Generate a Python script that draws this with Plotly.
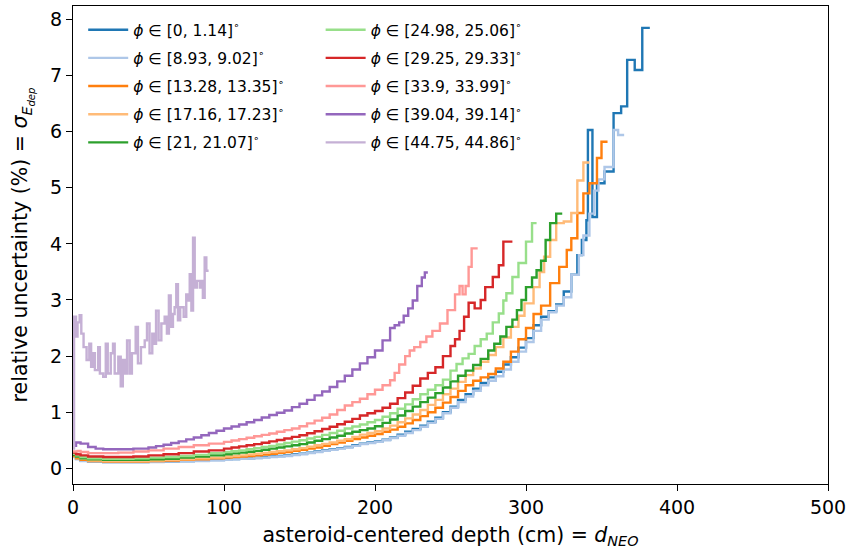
import plotly.graph_objects as go

# ---------------- data ----------------
labels = ["[0, 1.14]", "[8.93, 9.02]", "[13.28, 13.35]", "[17.16, 17.23]", "[21, 21.07]",
          "[24.98, 25.06]", "[29.25, 29.33]", "[33.9, 33.99]", "[39.04, 39.14]", "[44.75, 44.86]"]
colors = ["#1f77b4", "#aec7e8", "#ff7f0e", "#ffbb78", "#2ca02c",
          "#98df8a", "#d62728", "#ff9896", "#9467bd", "#c5b0d5"]

# shared depth grid (cm) for the smooth part of the curves
depth_low = [0, 2, 5, 10, 20, 30, 40, 50, 60, 70, 80, 90, 100, 105, 110, 115, 120, 125, 130, 135, 140,
             145, 150, 155, 160, 165, 170, 175, 180, 185, 190, 195, 200, 205, 210, 215, 220, 225, 230,
             235, 240, 245, 250]

unc_low_0 = [0.22, 0.17, 0.14, 0.12, 0.11, 0.11, 0.11, 0.12, 0.12, 0.13, 0.14, 0.15, 0.16, 0.165, 0.17,
             0.18, 0.19, 0.20, 0.21, 0.22, 0.23, 0.245, 0.26, 0.28, 0.30, 0.32, 0.34, 0.36, 0.38, 0.41,
             0.44, 0.46, 0.48, 0.51, 0.55, 0.60, 0.65, 0.70, 0.76, 0.83, 0.90, 1.00, 1.10]
depth_hi_0 = [255, 260, 265, 270, 275, 280, 285, 290, 295, 300, 305, 310, 315, 320, 325, 330, 334, 337,
              340, 341, 344, 347, 352, 358, 363, 367, 372, 377, 382]
unc_hi_0 = [1.22, 1.32, 1.42, 1.52, 1.62, 1.72, 1.85, 1.98, 2.15, 2.32, 2.55, 2.70, 2.80, 2.92, 3.15,
            3.45, 3.80, 4.07, 4.42, 6.03, 4.48, 5.08, 5.29, 6.33, 6.45, 7.28, 7.10, 7.85, 7.85]

unc_low_1 = [0.20, 0.16, 0.13, 0.12, 0.11, 0.11, 0.11, 0.11, 0.12, 0.12, 0.13, 0.14, 0.15, 0.16, 0.17,
             0.175, 0.18, 0.19, 0.20, 0.21, 0.22, 0.235, 0.25, 0.27, 0.29, 0.31, 0.33, 0.35, 0.37, 0.40,
             0.43, 0.45, 0.47, 0.50, 0.54, 0.58, 0.63, 0.68, 0.74, 0.81, 0.88, 0.98, 1.08]
depth_hi_1 = [255, 260, 265, 270, 275, 280, 285, 290, 295, 300, 305, 310, 315, 320, 325, 330, 335, 338,
              342, 345, 348, 352, 358, 361, 365]
unc_hi_1 = [1.18, 1.28, 1.38, 1.48, 1.56, 1.64, 1.76, 1.90, 2.08, 2.25, 2.45, 2.65, 2.78, 2.90, 3.05,
            3.45, 3.80, 4.15, 4.54, 4.95, 5.15, 5.37, 6.03, 5.94, 5.94]

unc_low_2 = [0.22, 0.18, 0.15, 0.13, 0.12, 0.12, 0.12, 0.13, 0.14, 0.15, 0.16, 0.18, 0.19, 0.20, 0.21,
             0.22, 0.23, 0.245, 0.26, 0.275, 0.29, 0.31, 0.33, 0.35, 0.37, 0.40, 0.43, 0.46, 0.49, 0.52,
             0.55, 0.58, 0.61, 0.65, 0.69, 0.74, 0.80, 0.86, 0.93, 1.00, 1.08, 1.17, 1.27]
depth_hi_2 = [255, 260, 265, 270, 275, 280, 285, 290, 295, 300, 305, 310, 316, 322, 327, 330, 334, 338,
              342, 347, 350, 354]
unc_hi_2 = [1.38, 1.48, 1.56, 1.62, 1.68, 1.78, 1.90, 2.08, 2.30, 2.50, 2.75, 2.90, 3.30, 3.59, 3.89,
            4.10, 4.55, 4.90, 5.08, 5.53, 5.82, 5.82]

unc_low_3 = [0.24, 0.20, 0.17, 0.14, 0.13, 0.13, 0.13, 0.14, 0.15, 0.16, 0.18, 0.19, 0.21, 0.22, 0.23,
             0.245, 0.26, 0.275, 0.29, 0.305, 0.32, 0.34, 0.36, 0.385, 0.41, 0.435, 0.46, 0.49, 0.52,
             0.56, 0.60, 0.63, 0.66, 0.71, 0.76, 0.82, 0.89, 0.96, 1.04, 1.13, 1.22, 1.32, 1.42]
depth_hi_3 = [255, 260, 265, 270, 275, 280, 285, 290, 295, 299, 305, 309, 312, 316, 320, 325, 330, 334,
              338, 342]
unc_hi_3 = [1.54, 1.66, 1.78, 1.90, 2.02, 2.16, 2.33, 2.52, 2.72, 2.94, 3.23, 3.50, 3.77, 4.07, 4.37,
            4.40, 4.55, 5.13, 5.45, 5.45]

unc_low_4 = [0.24, 0.21, 0.18, 0.16, 0.15, 0.15, 0.15, 0.16, 0.17, 0.19, 0.21, 0.23, 0.25, 0.265, 0.28,
             0.295, 0.31, 0.33, 0.35, 0.37, 0.39, 0.41, 0.43, 0.46, 0.49, 0.52, 0.55, 0.58, 0.62, 0.65,
             0.68, 0.71, 0.75, 0.81, 0.87, 0.94, 1.02, 1.10, 1.18, 1.26, 1.34, 1.44, 1.55]
depth_hi_4 = [255, 260, 265, 270, 275, 279, 283, 287, 291, 294, 297, 300, 304, 307, 310, 313, 316, 320,
              324]
unc_hi_4 = [1.65, 1.74, 1.84, 1.95, 2.10, 2.22, 2.35, 2.52, 2.65, 2.82, 3.00, 3.23, 3.40, 3.53, 3.70,
            4.07, 4.37, 4.54, 4.54]

unc_low_5 = [0.26, 0.23, 0.20, 0.18, 0.17, 0.17, 0.18, 0.19, 0.20, 0.22, 0.24, 0.27, 0.29, 0.305, 0.32,
             0.34, 0.36, 0.38, 0.40, 0.425, 0.45, 0.475, 0.50, 0.53, 0.56, 0.595, 0.63, 0.67, 0.71,
             0.745, 0.78, 0.82, 0.86, 0.92, 0.98, 1.06, 1.14, 1.23, 1.32, 1.40, 1.48, 1.58, 1.74]
depth_hi_5 = [254, 258, 262, 266, 270, 274, 278, 282, 285, 287, 291, 295, 300, 304, 307]
unc_hi_5 = [1.86, 1.96, 2.04, 2.18, 2.30, 2.40, 2.60, 2.76, 2.99, 3.12, 3.41, 3.66, 4.04, 4.37, 4.37]

unc_low_6 = [0.28, 0.25, 0.23, 0.21, 0.20, 0.20, 0.21, 0.23, 0.25, 0.27, 0.30, 0.32, 0.35, 0.37, 0.39,
             0.41, 0.43, 0.455, 0.48, 0.505, 0.53, 0.56, 0.59, 0.625, 0.66, 0.70, 0.74, 0.785, 0.83,
             0.88, 0.94, 0.98, 1.02, 1.08, 1.15, 1.25, 1.35, 1.47, 1.60, 1.70, 1.80, 2.00, 2.18]
depth_hi_6 = [253, 256, 259, 262, 266, 270, 273, 278, 282, 285, 291]
unc_hi_6 = [2.30, 2.45, 2.70, 2.95, 2.85, 3.00, 3.23, 3.41, 3.62, 4.04, 4.04]

depth_7 = [0, 3, 5, 10, 20, 30, 40, 50, 60, 70, 80, 90, 100, 105, 110, 115, 120, 125, 130, 135, 140,
           145, 150, 155, 160, 165, 170, 175, 180, 185, 190, 195, 200, 205, 210, 213, 216, 220, 223,
           226, 230, 234, 238, 243, 248, 253, 256, 258, 260, 262, 264, 268]
unc_7 = [0.30, 0.31, 0.29, 0.27, 0.27, 0.28, 0.30, 0.32, 0.35, 0.38, 0.41, 0.44, 0.47, 0.495, 0.52,
         0.545, 0.57, 0.595, 0.62, 0.65, 0.68, 0.71, 0.75, 0.80, 0.85, 0.90, 0.96, 1.04, 1.12, 1.18,
         1.24, 1.32, 1.40, 1.48, 1.57, 1.70, 1.85, 2.00, 2.10, 2.16, 2.25, 2.35, 2.45, 2.58, 2.82,
         3.10, 3.25, 3.10, 3.25, 3.59, 3.92, 3.92]

depth_8 = [0, 2, 5, 10, 15, 20, 30, 40, 50, 55, 60, 65, 70, 75, 80, 85, 90, 95, 100, 105, 110, 115, 120,
           125, 130, 135, 140, 145, 150, 155, 160, 165, 170, 175, 180, 185, 190, 195, 200, 205, 210,
           213, 216, 219, 222, 225, 228, 231, 233, 235]
unc_8 = [0.40, 0.46, 0.44, 0.38, 0.35, 0.34, 0.34, 0.35, 0.37, 0.395, 0.42, 0.45, 0.48, 0.515, 0.55,
         0.59, 0.63, 0.67, 0.71, 0.745, 0.78, 0.82, 0.86, 0.905, 0.95, 0.99, 1.03, 1.09, 1.15, 1.22,
         1.30, 1.37, 1.45, 1.55, 1.65, 1.76, 1.87, 1.98, 2.10, 2.28, 2.50, 2.55, 2.60, 2.72, 2.85,
         2.99, 3.25, 3.40, 3.49, 3.49]

depth_9 = [0, 0.7, 2, 3, 4.4, 5.5, 7, 9, 10.8, 12, 13, 14.5, 16.7, 17.8, 20, 21.7, 23, 25, 26.5, 27.6,
           30, 31.6, 33, 34.2, 35.8, 37.5, 39, 41.5, 43, 45, 47.5, 49, 50.7, 52.5, 54, 55, 56.7, 58.5,
           60.7, 62.2, 63.5, 64.7, 66.2, 67.3, 68.4, 69.5, 71, 73.3, 75, 76.6, 77.3, 78.4, 79.5, 80.6,
           82, 84, 85, 86, 87.2, 88.3, 89.8]
unc_9 = [0.35, 2.70, 2.35, 2.60, 2.73, 2.40, 2.16, 1.93, 2.22, 1.81, 2.05, 1.75, 2.16, 1.69, 1.63, 2.22,
         1.69, 2.05, 2.22, 1.69, 1.99, 1.46, 1.93, 1.69, 2.28, 1.69, 2.05, 2.52, 1.87, 2.16, 2.28, 2.58,
         2.05, 2.40, 2.22, 2.81, 2.28, 2.58, 2.70, 2.40, 3.08, 2.52, 2.75, 2.87, 3.28, 2.64, 2.87, 2.70,
         3.10, 2.99, 3.46, 2.81, 4.11, 3.22, 3.34, 3.22, 3.34, 3.04, 3.76, 3.52, 3.52]

depths = [depth_low + depth_hi_0, depth_low + depth_hi_1, depth_low + depth_hi_2,
          depth_low + depth_hi_3, depth_low + depth_hi_4, depth_low + depth_hi_5,
          depth_low + depth_hi_6, depth_7, depth_8, depth_9]
uncs = [unc_low_0 + unc_hi_0, unc_low_1 + unc_hi_1, unc_low_2 + unc_hi_2, unc_low_3 + unc_hi_3,
        unc_low_4 + unc_hi_4, unc_low_5 + unc_hi_5, unc_low_6 + unc_hi_6, unc_7, unc_8, unc_9]

x_ticks = [0, 100, 200, 300, 400, 500]
y_ticks = [0, 1, 2, 3, 4, 5, 6, 7, 8]

# ---------------- figure ----------------
FONT = "DejaVu Sans"
fig = go.Figure()
for i in range(10):
    fig.add_trace(go.Scatter(
        x=depths[i], y=uncs[i], mode="lines", line_shape="hv",
        line=dict(color=colors[i], width=2.4),
        name="<i>ϕ</i> ∈ " + labels[i] + "<sup>∘</sup>",
        legendgroup="g%d" % i,
        legend="legend" if i < 5 else "legend2",
    ))

axis_common = dict(
    showline=True, linecolor="black", linewidth=1.2, mirror=True,
    ticks="outside", ticklen=6, tickwidth=1.2, tickcolor="black",
    showgrid=False, zeroline=False, automargin=False,
    tickfont=dict(family=FONT, size=19, color="black"),
)

leg_common = dict(yanchor="top", xanchor="left", y=0.985, bgcolor="rgba(0,0,0,0)",
                  font=dict(family=FONT, size=15.5), itemwidth=40, tracegroupgap=5)

fig.update_layout(
    width=851, height=553,
    margin=dict(l=73, r=23, t=6, b=69),
    paper_bgcolor="white", plot_bgcolor="white",
    font=dict(family=FONT, size=16, color="black"),
    xaxis=dict(range=[0, 500], tickvals=x_ticks,
               title=dict(text="asteroid-centered depth (cm) = <i>d<sub>NEO</sub></i>",
                          font=dict(family=FONT, size=20.5), standoff=10),
               **axis_common),
    yaxis=dict(range=[-0.28, 8.24], tickvals=y_ticks,
               title=dict(text="relative uncertainty (%) = <i>σ<sub>E<sub>dep</sub></sub></i>",
                          font=dict(family=FONT, size=20.5), standoff=16),
               **axis_common),
    legend=dict(x=0.0135, **leg_common),
    legend2=dict(x=0.328, **leg_common),
)

fig.write_html("out.html", config={"displayModeBar": False},
               post_script="document.body.style.margin='0px';")
